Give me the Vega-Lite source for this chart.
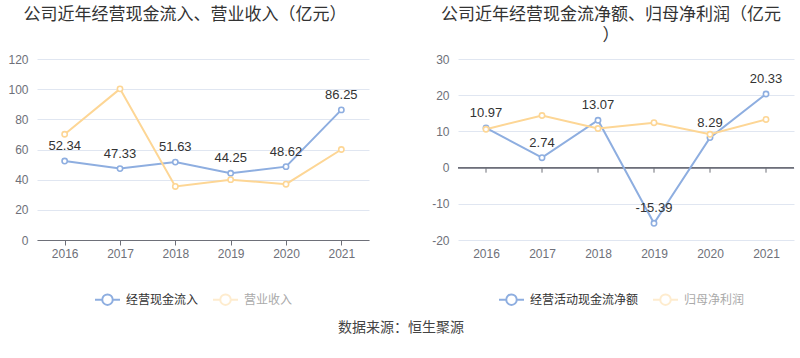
{
  "$schema": "https://vega.github.io/schema/vega-lite/v6.json",
  "padding": {"left": 7, "top": 6, "right": 0, "bottom": 0},
  "spacing": 62,
  "datasets": {
    "left": [
      {"year": "2016", "series": "经营现金流入", "value": 52.34},
      {"year": "2017", "series": "经营现金流入", "value": 47.33},
      {"year": "2018", "series": "经营现金流入", "value": 51.63},
      {"year": "2019", "series": "经营现金流入", "value": 44.25},
      {"year": "2020", "series": "经营现金流入", "value": 48.62},
      {"year": "2021", "series": "经营现金流入", "value": 86.25},
      {"year": "2016", "series": "营业收入", "value": 70.1},
      {"year": "2017", "series": "营业收入", "value": 100.2},
      {"year": "2018", "series": "营业收入", "value": 35.5},
      {"year": "2019", "series": "营业收入", "value": 40.0},
      {"year": "2020", "series": "营业收入", "value": 37.0},
      {"year": "2021", "series": "营业收入", "value": 60.0}
    ],
    "right": [
      {"year": "2016", "series": "经营活动现金流净额", "value": 10.97},
      {"year": "2017", "series": "经营活动现金流净额", "value": 2.74},
      {"year": "2018", "series": "经营活动现金流净额", "value": 13.07},
      {"year": "2019", "series": "经营活动现金流净额", "value": -15.39},
      {"year": "2020", "series": "经营活动现金流净额", "value": 8.29},
      {"year": "2021", "series": "经营活动现金流净额", "value": 20.33},
      {"year": "2016", "series": "归母净利润", "value": 10.6},
      {"year": "2017", "series": "归母净利润", "value": 14.4},
      {"year": "2018", "series": "归母净利润", "value": 10.8},
      {"year": "2019", "series": "归母净利润", "value": 12.4},
      {"year": "2020", "series": "归母净利润", "value": 9.2},
      {"year": "2021", "series": "归母净利润", "value": 13.3}
    ]
  },
  "title": {
    "text": "数据来源：恒生聚源",
    "orient": "bottom",
    "anchor": "start",
    "dx": 330,
    "font": "Noto Sans CJK SC",
    "fontSize": 14,
    "fontWeight": "normal",
    "color": "#444444",
    "offset": 12
  },
  "hconcat": [
    {
      "width": 332,
      "height": 181,
      "data": {"name": "left"},
      "title": {
        "text": ["公司近年经营现金流入、营业收入（亿元）", " "],
        "anchor": "middle",
        "dx": -18,
        "font": "Noto Sans CJK SC",
        "fontSize": 17,
        "fontWeight": "normal",
        "color": "#333333",
        "lineHeight": 21,
        "offset": 8
      },
      "encoding": {
        "x": {
          "field": "year",
          "type": "ordinal",
          "scale": {"type": "point", "padding": 0.5},
          "axis": {
            "title": null,
            "labelAngle": 0,
            "domainColor": "#6e7079",
            "tickColor": "#6e7079",
            "tickSize": 5,
            "labelPadding": 3,
            "labelColor": "#6e7079",
            "labelFont": "Liberation Sans",
            "labelFontSize": 12,
            "grid": false
          }
        },
        "y": {
          "field": "value",
          "type": "quantitative",
          "scale": {"domain": [0, 120], "nice": false},
          "axis": {
            "title": null,
            "values": [0, 20, 40, 60, 80, 100, 120],
            "domain": false,
            "ticks": false,
            "labelPadding": 9,
            "labelColor": "#6e7079",
            "labelFont": "Liberation Sans",
            "labelFontSize": 12,
            "gridColor": "#e0e6f1"
          }
        }
      },
      "layer": [
        {
          "mark": {"type": "line", "strokeWidth": 2},
          "encoding": {
            "color": {
              "field": "series",
              "type": "nominal",
              "sort": ["经营现金流入", "营业收入"],
              "scale": {"domain": ["经营现金流入", "营业收入"], "range": ["#8eaee0", "#fdd695"]},
              "legend": {
                "title": null,
                "orient": "none",
                "legendX": 57,
                "legendY": 227,
                "direction": "horizontal",
                "symbolType": "M-1,0H-0.42M0.42,0H1M0.42,0A0.42,0.42,0,1,1,-0.42,0A0.42,0.42,0,1,1,0.42,0",
                "symbolSize": 625,
                "symbolStrokeWidth": 2,
                "labelFont": "Noto Sans CJK SC",
                "labelFontSize": 12,
                "labelOffset": 5,
                "columnPadding": 10,
                "encode": {
                  "symbols": {"update": {"fill": {"value": "white"}, "opacity": {"signal": "datum.value === '营业收入' ? 0.45 : 1"}}},
                  "labels": {"update": {"fill": {"signal": "datum.value === '营业收入' ? '#aaaaaa' : '#333333'"}}}
                }
              }
            }
          }
        },
        {
          "mark": {"type": "point", "filled": false, "fill": "white", "size": 28, "strokeWidth": 1.6, "opacity": 1},
          "encoding": {
            "color": {"field": "series", "type": "nominal", "legend": null}
          }
        },
        {
          "transform": [{"filter": "datum.series === '经营现金流入'"}],
          "mark": {"type": "text", "dy": -15, "font": "Liberation Sans", "fontSize": 13, "color": "#333333"},
          "encoding": {
            "text": {"field": "value", "type": "quantitative", "format": ".2f"}
          }
        }
      ]
    },
    {
      "width": 336,
      "height": 181,
      "data": {"name": "right"},
      "title": {
        "text": ["公司近年经营现金流净额、归母净利润（亿元", "）"],
        "anchor": "middle",
        "dx": -15,
        "font": "Noto Sans CJK SC",
        "fontSize": 17,
        "fontWeight": "normal",
        "color": "#333333",
        "lineHeight": 21,
        "offset": 8
      },
      "encoding": {
        "x": {
          "field": "year",
          "type": "ordinal",
          "scale": {"type": "point", "padding": 0.5},
          "axis": {
            "title": null,
            "labelAngle": 0,
            "domain": false,
            "ticks": false,
            "labelPadding": 8,
            "labelColor": "#6e7079",
            "labelFont": "Liberation Sans",
            "labelFontSize": 12,
            "grid": false
          }
        },
        "y": {
          "field": "value",
          "type": "quantitative",
          "scale": {"domain": [-20, 30], "nice": false},
          "axis": {
            "title": null,
            "values": [-20, -10, 0, 10, 20, 30],
            "domain": false,
            "ticks": false,
            "labelPadding": 9,
            "labelColor": "#6e7079",
            "labelFont": "Liberation Sans",
            "labelFontSize": 12,
            "gridColor": "#e0e6f1"
          }
        }
      },
      "layer": [
        {
          "mark": {"type": "rule", "color": "#6e7079", "strokeWidth": 1},
          "encoding": {"x": null, "y": {"datum": 0}}
        },
        {
          "transform": [{"filter": "datum.series === '归母净利润'"}],
          "mark": {"type": "rule", "color": "#6e7079", "strokeWidth": 1},
          "encoding": {"y": {"datum": 0}, "y2": {"datum": -1.4}}
        },
        {
          "mark": {"type": "line", "strokeWidth": 2},
          "encoding": {
            "color": {
              "field": "series",
              "type": "nominal",
              "sort": ["经营活动现金流净额", "归母净利润"],
              "scale": {"domain": ["经营活动现金流净额", "归母净利润"], "range": ["#8eaee0", "#fdd695"]},
              "legend": {
                "title": null,
                "orient": "none",
                "legendX": 40,
                "legendY": 227,
                "direction": "horizontal",
                "symbolType": "M-1,0H-0.42M0.42,0H1M0.42,0A0.42,0.42,0,1,1,-0.42,0A0.42,0.42,0,1,1,0.42,0",
                "symbolSize": 625,
                "symbolStrokeWidth": 2,
                "labelFont": "Noto Sans CJK SC",
                "labelFontSize": 12,
                "labelOffset": 5,
                "columnPadding": 10,
                "encode": {
                  "symbols": {"update": {"fill": {"value": "white"}, "opacity": {"signal": "datum.value === '归母净利润' ? 0.45 : 1"}}},
                  "labels": {"update": {"fill": {"signal": "datum.value === '归母净利润' ? '#aaaaaa' : '#333333'"}}}
                }
              }
            }
          }
        },
        {
          "mark": {"type": "point", "filled": false, "fill": "white", "size": 28, "strokeWidth": 1.6, "opacity": 1},
          "encoding": {
            "color": {"field": "series", "type": "nominal", "legend": null}
          }
        },
        {
          "transform": [{"filter": "datum.series === '经营活动现金流净额'"}],
          "mark": {"type": "text", "dy": -15, "font": "Liberation Sans", "fontSize": 13, "color": "#333333"},
          "encoding": {
            "text": {"field": "value", "type": "quantitative", "format": ".2f"}
          }
        }
      ]
    }
  ],
  "resolve": {"scale": {"color": "independent", "y": "independent", "x": "independent"}, "legend": {"color": "independent"}},
  "config": {
    "view": {"stroke": null},
    "font": "Noto Sans CJK SC",
    "locale": {"number": {"decimal": ".", "thousands": ",", "grouping": [3], "currency": ["", ""], "minus": "-"}}
  }
}
